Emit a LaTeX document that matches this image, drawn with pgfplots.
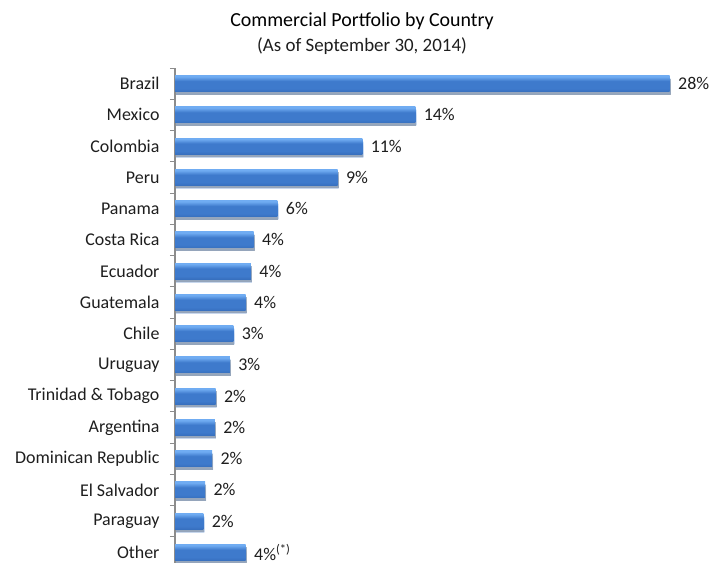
\documentclass[border=0pt]{standalone}
\usepackage{pgfplots}
\usepackage{pgfplotstable}
\pgfplotsset{compat=1.18}
\usepackage{fontspec}
\setmainfont{Carlito}
\definecolor{txt}{RGB}{30,30,30}
\definecolor{axisgray}{RGB}{140,140,140}
\definecolor{barEdge}{RGB}{92,150,222}
\definecolor{barHi}{RGB}{112,172,242}
\definecolor{barMid}{RGB}{62,122,204}
\definecolor{barBot}{RGB}{38,86,158}
\pgfdeclareverticalshading{barshade}{100bp}{color(0bp)=(barBot); color(35bp)=(barMid); color(58bp)=(barMid); color(72bp)=(barHi); color(88bp)=(barHi); color(100bp)=(barEdge)}

% share of commercial portfolio, %
\pgfplotstableread{
x y lab
28.0 0 28\%
13.6 1 14\%
10.6 2 11\%
9.2 3 9\%
5.8 4 6\%
4.45 5 4\%
4.3 6 4\%
4.0 7 4\%
3.3 8 3\%
3.1 9 3\%
2.3 10 2\%
2.25 11 2\%
2.1 12 2\%
1.7 13 2\%
1.6 14 2\%
4.0 15 4\%\textsuperscript{(*)}
}\portfolio

\begin{document}
\begin{tikzpicture}
\path[use as bounding box] (0,0) rectangle (725bp,563bp);
\clip (0,0) rectangle (725bp,563bp);
% titles
\node[font=\fontsize{20}{22}\selectfont, text=black] at (362bp,542bp) {Commercial Portfolio by Country};
\node[font=\fontsize{19}{21}\selectfont, text=txt] at (362bp,517bp) {(As of September 30, 2014)};
\begin{axis}[
    at={(175bp,-5bp)}, anchor=south west,
    scale only axis, width=530bp, height=500bp,
    xbar, bar width=16bp,
    xmin=0, xmax=30, ymin=-0.5, ymax=15.5, y dir=reverse,
    axis x line=none, axis y line*=left,
    y axis line style={draw=axisgray, line width=1.5bp, -},
    ytick={0,...,15},
    yticklabels={Brazil,Mexico,Colombia,Peru,Panama,Costa Rica,Ecuador,Guatemala,Chile,Uruguay,Trinidad \& Tobago,Argentina,Dominican Republic,El Salvador,Paraguay,Other},
    major tick length=0pt,
    minor ytick={-0.5,0.5,...,15.5},
    minor tick length=5bp, tick align=outside,
    every minor tick/.style={draw=axisgray, line width=1bp},
    yticklabel style={font=\fontsize{18}{20}\selectfont, text=txt, xshift=-12bp},
    point meta=explicit symbolic,
    nodes near coords,
    nodes near coords style={font=\fontsize{18}{20}\selectfont, text=txt, anchor=west, xshift=5bp},
    clip=false,
]
% one plot per bar, so that each bar gets its own shading
\pgfplotsinvokeforeach{0,...,15}{
\addplot[draw=none, bar shift=0pt, shading=barshade,
    preaction={fill=black, opacity=0.28, transform canvas={shift={(1bp,-3bp)}}},
    y filter/.expression={abs(y-#1)<0.2 ? y : nan}]
    table[x=x, y=y, meta=lab] {\portfolio};
}
\end{axis}
\end{tikzpicture}
\end{document}
